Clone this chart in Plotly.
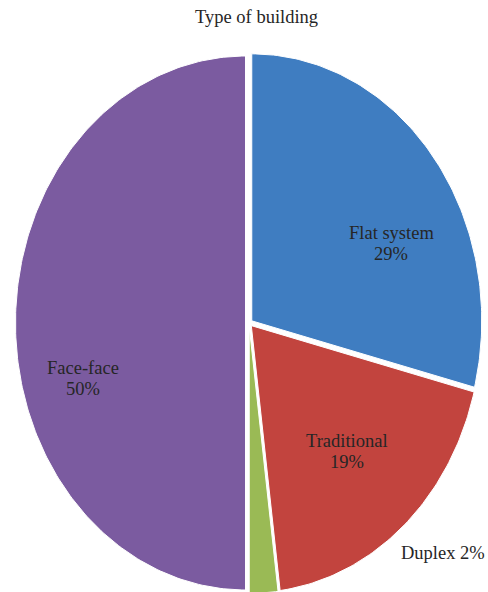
import numpy as np
import plotly.graph_objects as go

# ---- data ----
labels = ["Flat system", "Traditional", "Duplex", "Face-face"]
values = [29, 19, 2, 50]
percent_labels = ["29%", "19%", "2%", "50%"]
title_text = "Type of building"

# ---- style / layout ----
colors = ["#3f7dc1", "#c2443e", "#9aba55", "#7b5ba0"]
W, H = 488, 592
cx, cy, rx, ry = 249, 323, 230, 267
pull = 3.5
# label anchor positions (pixel coordinates of the page)
label_pos = [(391, 243), (347, 451), (443, 553), (83, 378)]
label_inside = [True, True, False, True]
line_gap = 21
font_family = "Liberation Serif, Times New Roman, serif"
font_size = 18.5
text_color = "#262626"

fig = go.Figure()
total = float(sum(values))
start = 0.0
for lab, val, col in zip(labels, values, colors):
    a0 = start / total * 2 * np.pi
    a1 = (start + val) / total * 2 * np.pi
    m = (a0 + a1) / 2
    dx, dy = pull * np.sin(m), -pull * np.cos(m)
    t = np.linspace(a0, a1, max(int(val * 4), 12))
    xs = np.concatenate([[cx], cx + rx * np.sin(t), [cx]]) + dx
    ys = np.concatenate([[cy], cy - ry * np.cos(t), [cy]]) + dy
    fig.add_trace(go.Scatter(
        x=xs, y=ys, mode="lines", fill="toself", fillcolor=col,
        line=dict(color="white", width=1), name=lab, hoverinfo="name",
    ))
    start += val

font = dict(family=font_family, size=font_size, color=text_color)
for lab, pct, (lx, ly), inside in zip(labels, percent_labels, label_pos, label_inside):
    if inside:
        fig.add_annotation(x=lx, y=ly - line_gap / 2, text=lab, showarrow=False,
                           xref="x", yref="y", font=font)
        fig.add_annotation(x=lx, y=ly + line_gap / 2, text=pct, showarrow=False,
                           xref="x", yref="y", font=font)
    else:
        fig.add_annotation(x=lx, y=ly, text=f"{lab} {pct}", showarrow=False,
                           xref="x", yref="y", font=font)

fig.add_annotation(x=256, y=17, text=title_text, showarrow=False, xref="x", yref="y",
                   font=font)

fig.update_layout(
    width=W, height=H, margin=dict(l=0, r=0, t=0, b=0),
    paper_bgcolor="white", plot_bgcolor="white", showlegend=False,
    xaxis=dict(range=[0, W], visible=False, fixedrange=True),
    yaxis=dict(range=[H, 0], visible=False, fixedrange=True),
)
fig.write_html("out.html")
